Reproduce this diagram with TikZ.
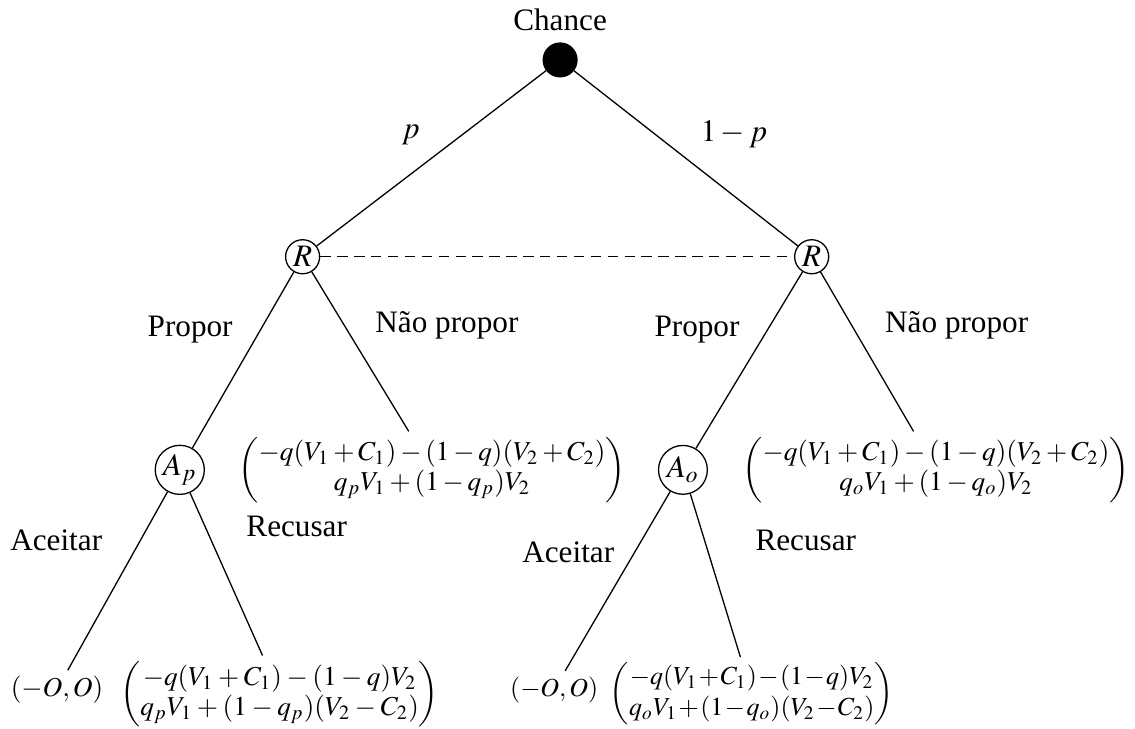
\documentclass[tikz,border=0pt]{standalone}
\usepackage{amsmath}
\usepackage{mathptmx}
\usepackage{fontspec}
\setmainfont{Liberation Serif}
\usepackage{tikz}
\usetikzlibrary{positioning}

\begin{document}
\begin{tikzpicture}[
  every node/.style={align=center, font=\fontsize{12}{14}\selectfont},
  chancenode/.style={circle, fill=black, draw=black, minimum size=0.46cm, inner sep=0pt},
  player/.style={circle, draw=black, line width=0.5pt, minimum size=0.46cm, inner sep=0.5pt},
  responder/.style={circle, draw=black, line width=0.5pt, minimum size=0.66cm, inner sep=0.5pt},
  payoff/.style={inner sep=2pt, font=\fontsize{10.5}{12}\selectfont},
  branch/.style={line width=0.5pt},
  infoset/.style={line width=0.5pt, dash pattern=on 4pt off 2.5pt}
]
\useasboundingbox (0,0) rectangle (15.34,-9.84);

% --- NATURE ---
\node[chancenode] (chance) at (7.57,-0.81) {};
\node (chancelbl) at (7.57,-0.27) {Chance};

% --- FIRST MOVER ---
\node[player] (Rp) at (4.09,-3.47) {$R$};
\node[player] (Ro) at (10.97,-3.47) {$R$};

% --- SECOND MOVER AND PAYOFFS ---
\node[responder] (Ap) at (2.43,-6.35) {$A_p$};
\node[responder] (Ao) at (9.23,-6.35) {$A_o$};
\node[payoff] (noprop_p) at (5.84,-6.35) {$\renewcommand{\arraystretch}{0.96}\begin{pmatrix} -q(V_1+C_1)-(1-q)(V_2+C_2)\\ q_pV_1+(1-q_p)V_2 \end{pmatrix}$};
\node[payoff] (noprop_o) at (12.65,-6.35) {$\renewcommand{\arraystretch}{0.96}\begin{pmatrix} -q(V_1+C_1)-(1-q)(V_2+C_2)\\ q_oV_1+(1-q_o)V_2 \end{pmatrix}$};

% --- LEAVES ---
\node[payoff] (acc_p) at (0.77,-9.32) {$(-O,O)$};
\node[payoff] (rec_p) at (3.78,-9.38) {$\medmuskip=3mu\renewcommand{\arraystretch}{0.96}\begin{pmatrix} -q(V_1+C_1)-(1-q)V_2\\ q_pV_1+(1-q_p)(V_2-C_2) \end{pmatrix}$};
\node[payoff, font=\fontsize{10}{12}\selectfont] (acc_o) at (7.49,-9.32) {$(-O,O)$};
\node[payoff, font=\fontsize{10}{12}\selectfont] (rec_o) at (10.16,-9.38) {$\medmuskip=1mu\renewcommand{\arraystretch}{1.0}\begin{pmatrix} -q(V_1+C_1)-(1-q)V_2\\ q_oV_1+(1-q_o)(V_2-C_2) \end{pmatrix}$};

% --- BRANCHES ---
\draw[branch] (chance) -- (Rp);
\draw[branch] (chance) -- (Ro);
\draw[infoset] (Rp) -- (Ro);
\draw[branch] (Rp) -- (Ap);
\draw[branch] (Rp) -- (noprop_p);
\draw[branch] (Ro) -- (Ao);
\draw[branch] (Ro) -- (noprop_o);
\draw[branch] (Ap) -- (acc_p);
\draw[branch] (Ap) -- (rec_p);
\draw[branch] (Ao) -- (acc_o);
\draw[branch] (Ao) -- (rec_o);

% --- BRANCH LABELS ---
\node (lbl_p) at (5.55,-1.82) {$p$};
\node (lbl_1p) at (9.92,-1.82) {$1-p$};
\node (lbl_prop_p) at (2.57,-4.45) {Propor};
\node (lbl_nprop_p) at (6.04,-4.39) {Não propor};
\node (lbl_prop_o) at (9.42,-4.46) {Propor};
\node (lbl_nprop_o) at (12.93,-4.39) {Não propor};
\node (lbl_acc_p) at (0.76,-7.30) {Aceitar};
\node (lbl_rec_p) at (4.01,-7.12) {Recusar};
\node (lbl_acc_o) at (7.68,-7.47) {Aceitar};
\node (lbl_rec_o) at (10.89,-7.30) {Recusar};

\end{tikzpicture}
\end{document}
